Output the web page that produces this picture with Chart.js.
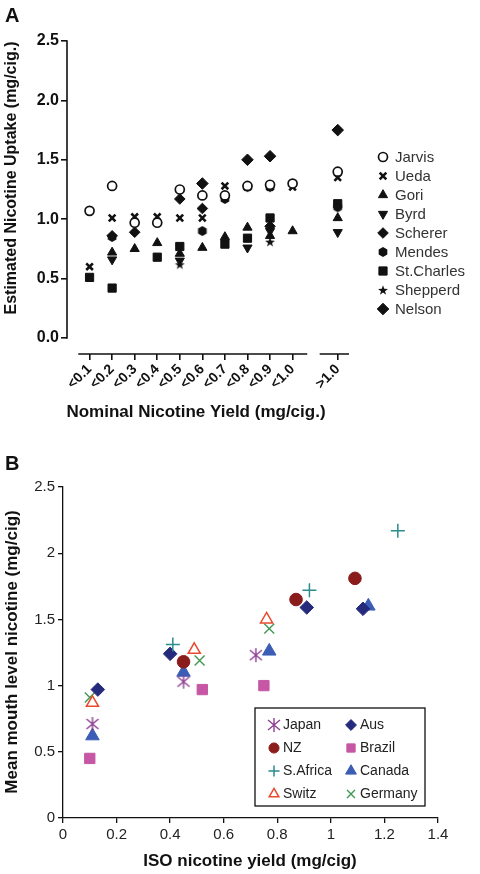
<!DOCTYPE html>
<html>
<head>
<meta charset="utf-8">
<script src="https://cdn.jsdelivr.net/npm/chart.js@4.4.0/dist/chart.umd.min.js"></script>
<style>
body { margin: 0; background: #fff; }
canvas { display: block; }
</style>
</head>
<body>
<canvas id="chartA" width="480" height="440"></canvas>
<canvas id="chartB" width="480" height="434"></canvas>
<script>
// ---- panel A data: nicotine uptake by nominal yield band ----
var categories = ['<0.1', '<0.2', '<0.3', '<0.4', '<0.5', '<0.6', '<0.7', '<0.8', '<0.9', '<1.0', '>1.0'];
var yTicksA = [0, 0.5, 1.0, 1.5, 2.0, 2.5];

var jarvis    = [1.07, 1.28, 0.97, 0.97, 1.25, 1.20, 1.20, 1.28, 1.29, 1.30, 1.40];
var ueda      = [0.60, 1.01, 1.02, 1.02, 1.01, 1.01, 1.28, 1.27, 1.27, 1.27, 1.35];
var gori      = [null, 0.72, 0.75, 0.80, 0.71, 0.76, 0.85, 0.93, 0.86, 0.90, 1.01];
var byrd      = [null, 0.66, null, null, 0.65, null, null, 0.76, 0.90, null, 0.89];
var scherer   = [null, 0.86, 0.89, null, 1.17, 1.09, null, null, 0.94, null, null];
var mendes    = [null, 0.85, null, null, null, 0.90, 1.17, 1.27, 1.27, null, 1.10];
var stCharles = [0.51, 0.42, null, 0.68, 0.77, null, 0.79, 0.84, 1.01, null, 1.13];
var shepperd  = [null, null, null, null, 0.62, null, null, null, 0.81, null, null];
var nelson    = [null, null, null, null, null, 1.30, null, 1.50, 1.53, null, 1.75];

// ---- panel B data: ISO yield vs mean mouth level nicotine ----
var japanIso  = [0.11, 0.45, 0.72];   var japanMouth  = [0.71, 1.03, 1.23];
var nzIso     = [0.45, 0.87, 1.09];   var nzMouth     = [1.18, 1.65, 1.81];
var safIso    = [0.41, 0.92, 1.25];   var safMouth    = [1.31, 1.72, 2.17];
var switzIso  = [0.11, 0.49, 0.76];   var switzMouth  = [0.87, 1.27, 1.50];
var ausIso    = [0.13, 0.40, 0.91, 1.12]; var ausMouth = [0.97, 1.24, 1.59, 1.58];
var brazilIso = [0.10, 0.52, 0.75];   var brazilMouth = [0.45, 0.97, 1.00];
var canadaIso = [0.11, 0.45, 0.77, 1.14]; var canadaMouth = [0.62, 1.10, 1.26, 1.60];
var germIso   = [0.10, 0.51, 0.77];   var germMouth   = [0.91, 1.19, 1.43];

var FONT = 'Arial, "Liberation Sans", Helvetica, sans-serif';

// >1.0 sits one slot further right (gap in axis)
function xPos(i) { return i < 10 ? i : i + 1; }

function toPoints(vals) {
  var pts = [];
  vals.forEach(function (v, i) { if (v !== null) pts.push({ x: xPos(i), y: v }); });
  return pts;
}
function pairPoints(xs, ys) {
  return xs.map(function (x, i) { return { x: x, y: ys[i] }; });
}

function markerCanvas(size, draw) {
  var c = document.createElement('canvas');
  c.width = size; c.height = size;
  draw(c.getContext('2d'), size / 2);
  return c;
}
var hexagon = markerCanvas(12, function (g, c) {
  g.fillStyle = '#111';
  g.beginPath();
  for (var k = 0; k < 6; k++) {
    var a = Math.PI / 6 + k * Math.PI / 3;
    g.lineTo(c + 5 * Math.cos(a), c + 5 * Math.sin(a));
  }
  g.closePath(); g.fill();
});
var star = markerCanvas(12, function (g, c) {
  g.fillStyle = '#111';
  g.beginPath();
  for (var k = 0; k < 10; k++) {
    var r = k % 2 ? 2.1 : 5.2;
    var a = -Math.PI / 2 + k * Math.PI / 5;
    g.lineTo(c + r * Math.cos(a), c + 0.5 + r * Math.sin(a));
  }
  g.closePath(); g.fill();
});
var asterisk = markerCanvas(16, function (g, c) {
  g.strokeStyle = '#8e3f93'; g.lineWidth = 1.4;
  g.beginPath();
  g.moveTo(c, c - 7); g.lineTo(c, c + 7);
  g.moveTo(c - 6, c - 5); g.lineTo(c + 6, c + 5);
  g.moveTo(c - 6, c + 5); g.lineTo(c + 6, c - 5);
  g.stroke();
});

function drawTitle(ctx, text, x, y, size, vertical) {
  ctx.save();
  ctx.fillStyle = '#111';
  ctx.font = 'bold ' + size + 'px ' + FONT;
  ctx.textAlign = 'center';
  ctx.textBaseline = 'middle';
  ctx.translate(x, y);
  if (vertical) ctx.rotate(-Math.PI / 2);
  ctx.fillText(text, 0, 0);
  ctx.restore();
}

function plainNum(v) { return String(+v.toFixed(2)); }

var studies = [
  { label: 'Jarvis', vals: jarvis, style: 'circle', bg: '#fff', r: 4.5, bw: 1.7 },
  { label: 'Ueda', vals: ueda, style: 'crossRot', bg: '#111', r: 4.7, bw: 2.6 },
  { label: 'Gori', vals: gori, style: 'triangle', bg: '#111', r: 5.3, bw: 1 },
  { label: 'Byrd', vals: byrd, style: 'triangle', bg: '#111', r: 5.3, bw: 1, rot: 180 },
  { label: 'Scherer', vals: scherer, style: 'rectRot', bg: '#111', r: 5.3, bw: 1 },
  { label: 'Mendes', vals: mendes, style: hexagon, bg: '#111', r: 5, bw: 1 },
  { label: 'St.Charles', vals: stCharles, style: 'rect', bg: '#111', r: 5.8, bw: 1 },
  { label: 'Shepperd', vals: shepperd, style: star, bg: '#111', r: 5, bw: 1 },
  { label: 'Nelson', vals: nelson, style: 'rectRot', bg: '#111', r: 5.8, bw: 1 }
];

var axesA = {
  id: 'axesA',
  afterDraw: function (chart) {
    var ctx = chart.ctx, a = chart.chartArea, x = chart.scales.x, y = chart.scales.y;
    ctx.save();
    ctx.strokeStyle = '#111'; ctx.lineWidth = 1.6;
    ctx.beginPath();
    ctx.moveTo(a.left, y.getPixelForValue(0) + 0.8);
    ctx.lineTo(a.left, y.getPixelForValue(2.5) - 0.8);
    ctx.moveTo(x.getPixelForValue(-0.5), a.bottom);
    ctx.lineTo(x.getPixelForValue(9.65), a.bottom);
    ctx.moveTo(x.getPixelForValue(10.2), a.bottom);
    ctx.lineTo(a.right, a.bottom);
    ctx.stroke();
    // legend
    ctx.font = '15px ' + FONT;
    ctx.textBaseline = 'middle';
    chart.data.datasets.forEach(function (ds, i) {
      var ly = 157 + i * 19;
      ctx.fillStyle = ds.pointBackgroundColor;
      ctx.strokeStyle = '#111';
      ctx.lineWidth = ds.pointBorderWidth;
      Chart.helpers.drawPoint(ctx, {
        pointStyle: ds.pointStyle, radius: ds.pointRadius,
        rotation: ds.pointRotation || 0, borderWidth: ds.pointBorderWidth
      }, 383, ly);
      ctx.fillStyle = '#333';
      ctx.fillText(ds.label, 395, ly + 1);
    });
    ctx.fillStyle = '#111';
    ctx.font = 'bold 20px ' + FONT;
    ctx.textBaseline = 'alphabetic';
    ctx.fillText('A', 5, 22);
    ctx.restore();
    drawTitle(ctx, 'Estimated Nicotine Uptake (mg/cig.)', 12, 178, 16, true);
    drawTitle(ctx, 'Nominal Nicotine Yield (mg/cig.)', 196, 412, 17, false);
  }
};

new Chart(document.getElementById('chartA'), {
  type: 'scatter',
  data: {
    datasets: studies.map(function (s) {
      return {
        label: s.label,
        data: toPoints(s.vals),
        pointStyle: s.style,
        pointRadius: s.r,
        pointHoverRadius: s.r,
        pointRotation: s.rot || 0,
        pointBackgroundColor: s.bg,
        pointBorderColor: '#111',
        pointBorderWidth: s.bw
      };
    })
  },
  options: {
    responsive: false,
    animation: false,
    layout: { padding: { top: 41, right: 131, left: 0, bottom: 0 } },
    plugins: { legend: { display: false }, tooltip: { enabled: false } },
    scales: {
      x: {
        type: 'linear', min: -1, max: 11.5,
        afterBuildTicks: function (s) {
          s.ticks = categories.map(function (c, i) { return { value: xPos(i) }; });
        },
        afterFit: function (s) { s.height = 86; },
        ticks: {
          minRotation: 45, maxRotation: 45, padding: 1,
          color: '#111', font: { family: FONT, size: 14, weight: 'bold' },
          callback: function (v) { return categories[v < 10 ? v : v - 1]; }
        },
        grid: { drawOnChartArea: false, tickLength: 6, color: '#111', lineWidth: 1.6 },
        border: { display: false }
      },
      y: {
        min: -0.135, max: 2.5,
        afterBuildTicks: function (s) {
          s.ticks = yTicksA.map(function (v) { return { value: v }; });
        },
        afterFit: function (s) { s.width = 67; },
        ticks: {
          padding: 2, color: '#111', font: { family: FONT, size: 16, weight: 'bold' },
          callback: function (v) { return v.toFixed(1); }
        },
        grid: { drawOnChartArea: false, tickLength: 6, color: '#111', lineWidth: 1.6 },
        border: { display: false }
      }
    }
  },
  plugins: [axesA]
});

// ---- panel B ----
var countries = [
  { label: 'Japan', xs: japanIso, ys: japanMouth, style: asterisk, color: '#8e3f93', fill: '#8e3f93', r: 7, bw: 1.4 },
  { label: 'NZ', xs: nzIso, ys: nzMouth, style: 'circle', color: '#8b1c1c', fill: '#8b1c1c', r: 6.3, bw: 1 },
  { label: 'S.Africa', xs: safIso, ys: safMouth, style: 'cross', color: '#2b8c8c', fill: '#2b8c8c', r: 7, bw: 1.5 },
  { label: 'Switz', xs: switzIso, ys: switzMouth, style: 'triangle', color: '#e84a2e', fill: '#fff', r: 7, bw: 1.5 },
  { label: 'Aus', xs: ausIso, ys: ausMouth, style: 'rectRot', color: '#252a7c', fill: '#252a7c', r: 6.8, bw: 1 },
  { label: 'Brazil', xs: brazilIso, ys: brazilMouth, style: 'rect', color: '#c657a4', fill: '#c657a4', r: 7.3, bw: 1 },
  { label: 'Canada', xs: canadaIso, ys: canadaMouth, style: 'triangle', color: '#3c5db5', fill: '#3c5db5', r: 7.8, bw: 1 },
  { label: 'Germany', xs: germIso, ys: germMouth, style: 'crossRot', color: '#3f9a55', fill: '#3f9a55', r: 7, bw: 1.4 }
];

var legendB = {
  id: 'legendB',
  afterDraw: function (chart) {
    var ctx = chart.ctx;
    ctx.save();
    ctx.strokeStyle = '#111'; ctx.lineWidth = 1.3;
    ctx.strokeRect(255, 268, 170, 98);
    ctx.font = '14px ' + FONT;
    ctx.textBaseline = 'middle';
    chart.data.datasets.forEach(function (ds, i) {
      var col = i < 4 ? 0 : 1, row = i % 4;
      var mx = col ? 351 : 274, ly = 285 + row * 23;
      ctx.fillStyle = ds.pointBackgroundColor;
      ctx.strokeStyle = ds.pointBorderColor;
      ctx.lineWidth = ds.pointBorderWidth;
      Chart.helpers.drawPoint(ctx, {
        pointStyle: ds.pointStyle, radius: ds.pointRadius * 0.8,
        rotation: 0, borderWidth: ds.pointBorderWidth
      }, mx, ly);
      ctx.fillStyle = '#222';
      ctx.fillText(ds.label, mx + 9, ly);
    });
    ctx.fillStyle = '#111';
    ctx.font = 'bold 20px ' + FONT;
    ctx.textBaseline = 'alphabetic';
    ctx.fillText('B', 5, 30);
    ctx.restore();
    drawTitle(ctx, 'Mean mouth level nicotine (mg/cig)', 12, 212, 17, true);
    drawTitle(ctx, 'ISO nicotine yield (mg/cig)', 250, 421, 17, false);
  }
};

new Chart(document.getElementById('chartB'), {
  type: 'scatter',
  data: {
    datasets: countries.map(function (c) {
      return {
        label: c.label,
        data: pairPoints(c.xs, c.ys),
        pointStyle: c.style,
        pointRadius: c.r,
        pointHoverRadius: c.r,
        pointBackgroundColor: c.fill,
        pointBorderColor: c.color,
        pointBorderWidth: c.bw
      };
    })
  },
  options: {
    responsive: false,
    animation: false,
    layout: { padding: { top: 47, right: 42, left: 0, bottom: 0 } },
    plugins: { legend: { display: false }, tooltip: { enabled: false } },
    scales: {
      x: {
        type: 'linear', min: 0, max: 1.4,
        afterFit: function (s) { s.height = 56; },
        ticks: { stepSize: 0.2, padding: 3, color: '#222', font: { family: FONT, size: 15 }, callback: plainNum },
        grid: { drawOnChartArea: false, tickLength: 5, color: '#111', lineWidth: 1.3 },
        border: { display: true, color: '#111', width: 1.3 }
      },
      y: {
        min: 0, max: 2.5,
        afterFit: function (s) { s.width = 63; },
        ticks: { stepSize: 0.5, padding: 3, color: '#222', font: { family: FONT, size: 15 }, callback: plainNum },
        grid: { drawOnChartArea: false, tickLength: 5, color: '#111', lineWidth: 1.3 },
        border: { display: true, color: '#111', width: 1.3 }
      }
    }
  },
  plugins: [legendB]
});
</script>
</body>
</html>
